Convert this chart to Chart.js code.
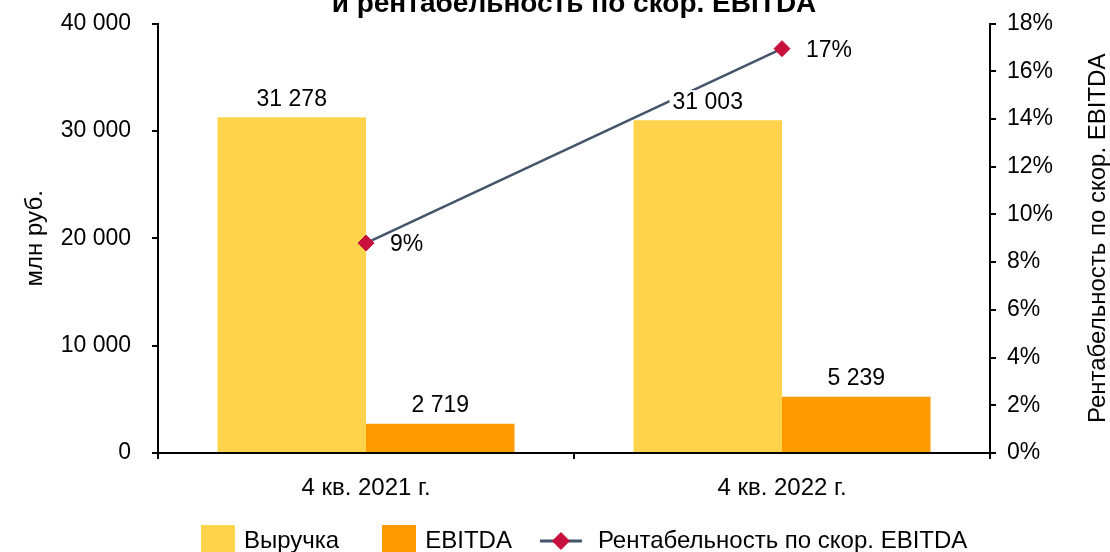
<!DOCTYPE html>
<html><head><meta charset="utf-8">
<script src="https://cdn.jsdelivr.net/npm/chart.js@4/dist/chart.umd.min.js"></script>
<style>
html,body{margin:0;padding:0;background:#fff;overflow:hidden;width:1110px;height:552px;}
#wrap{position:absolute;left:0;top:-13px;width:1110px;height:576px;}
</style></head><body>
<div id="wrap"><canvas id="c"></canvas></div>
<script>
const categories = ['4 кв. 2021 г.', '4 кв. 2022 г.'];
const revenue = [31278, 31003];
const ebitda = [2719, 5239];
const margin = [8.8, 16.95];
const marginLabels = ['9%', '17%'];
const seriesNames = ['Выручка', 'EBITDA', 'Рентабельность по скор. EBITDA'];
const leftTicks = [0, 10000, 20000, 30000, 40000];
const rightTicks = [0, 2, 4, 6, 8, 10, 12, 14, 16, 18];
const titleText = 'и рентабельность по скор. EBITDA';
const leftAxisTitle = 'млн руб.';
const rightAxisTitle = 'Рентабельность по скор. EBITDA';

const YELLOW = '#FFD44C', ORANGE = '#FF9A00', LINE = '#44546A', DIAMOND = '#C8103C';
const FAMILY = '"Liberation Sans", Arial, sans-serif';
Chart.defaults.font.family = FAMILY;
Chart.defaults.font.size = 23;
Chart.defaults.color = '#000';

const fmt = v => String(v).replace(/\B(?=(\d{3})+(?!\d))/g, ' ');

function boxIcon(color) {
  const c = document.createElement('canvas');
  c.width = 34; c.height = 32;
  const x = c.getContext('2d');
  x.fillStyle = color; x.fillRect(0, 0, 34, 32);
  return c;
}
function lineIcon() {
  const c = document.createElement('canvas');
  c.width = 70; c.height = 20;
  const x = c.getContext('2d');
  x.strokeStyle = LINE; x.lineWidth = 3;
  x.beginPath(); x.moveTo(3, 10); x.lineTo(45, 10); x.stroke();
  x.fillStyle = DIAMOND;
  x.beginPath(); x.moveTo(24, 1); x.lineTo(33, 10); x.lineTo(24, 19); x.lineTo(15, 10); x.closePath(); x.fill();
  return c;
}
const icons = [boxIcon(YELLOW), boxIcon(ORANGE), lineIcon()];

const axisGrid = {drawOnChartArea: false, drawTicks: true, tickLength: 6, color: '#000', lineWidth: 2};
const axisBorder = {display: true, color: '#000', width: 2};

const labelPlugin = {
  id: 'valueLabels',
  afterLayout(chart) {
    // let x-axis labels extend below the scale box without clipping
    chart.scales.x.bottom = chart.height;
    // legend starts at the left edge of the plot area
    chart.legend.left = chart.chartArea.left;
  },
  afterDatasetsDraw(chart) {
    const ctx = chart.ctx;
    ctx.save();
    ctx.font = '23px ' + FAMILY;
    ctx.textBaseline = 'middle';
    [0, 1].forEach(di => {
      const meta = chart.getDatasetMeta(di);
      meta.data.forEach((bar, i) => {
        const t = fmt(chart.data.datasets[di].data[i]);
        const w = ctx.measureText(t).width;
        const y = bar.y - 18;
        ctx.fillStyle = '#fff';
        ctx.fillRect(bar.x - w / 2 - 3, y - 12, w + 6, 24);
        ctx.fillStyle = '#000';
        ctx.textAlign = 'center';
        ctx.fillText(t, bar.x, y);
      });
    });
    const lm = chart.getDatasetMeta(2);
    ctx.textAlign = 'left';
    lm.data.forEach((p, i) => ctx.fillText(marginLabels[i], p.x + 24, p.y + 2));
    const ca = chart.chartArea;
    ctx.font = '24px ' + FAMILY;
    ctx.translate(1098, (ca.top + ca.bottom) / 2);
    ctx.rotate(-Math.PI / 2);
    ctx.textAlign = 'center';
    ctx.fillText(rightAxisTitle, 0, 0);
    ctx.restore();
  }
};

new Chart(document.getElementById('c'), {
  type: 'bar',
  data: {
    labels: categories,
    datasets: [
      {label: seriesNames[0], data: revenue, backgroundColor: YELLOW, yAxisID: 'y', order: 2,
       categoryPercentage: 0.714, barPercentage: 1.0},
      {label: seriesNames[1], data: ebitda, backgroundColor: ORANGE, yAxisID: 'y', order: 2,
       categoryPercentage: 0.714, barPercentage: 1.0},
      {type: 'line', label: seriesNames[2], data: margin, yAxisID: 'y1', order: 0,
       borderColor: LINE, borderWidth: 2.5, tension: 0,
       pointStyle: 'rectRot', pointRadius: 8, pointHoverRadius: 8,
       pointBackgroundColor: DIAMOND, pointBorderColor: DIAMOND, pointBorderWidth: 1}
    ]
  },
  options: {
    responsive: true, maintainAspectRatio: false, animation: false, devicePixelRatio: 1,
    layout: {padding: 0},
    plugins: {
      tooltip: {enabled: false},
      title: {display: true, text: titleText, color: '#000', fullSize: false,
              font: {size: 28, weight: 'bold', family: FAMILY}, padding: {top: 0, bottom: 3}},
      legend: {
        display: true, position: 'bottom', align: 'start', fullSize: true,
        labels: {
          usePointStyle: true, pointStyleWidth: 28, padding: 46, color: '#000',
          font: {size: 24, family: FAMILY},
          generateLabels: chart => seriesNames.map((n, i) => ({
            text: n, pointStyle: icons[i], fillStyle: 'rgba(0,0,0,0)', strokeStyle: 'rgba(0,0,0,0)',
            lineWidth: 0, hidden: false, datasetIndex: i, fontColor: '#000'
          }))
        }
      }
    },
    scales: {
      x: {
        grid: {...axisGrid, offset: true}, border: axisBorder,
        ticks: {color: '#000', padding: 15, font: {size: 24}},
        afterFit(s) { s.height = 30; }
      },
      y: {
        position: 'left', min: 0, max: 40000,
        grid: axisGrid, border: axisBorder,
        afterBuildTicks(s) { s.ticks = leftTicks.map(v => ({value: v})); },
        ticks: {color: '#000', padding: 21, font: {size: 23}, callback: v => fmt(v)},
        title: {display: true, text: leftAxisTitle, color: '#000', font: {size: 24}, padding: {top: 21, bottom: 0}},
        afterFit(s) { s.width = 158; }
      },
      y1: {
        position: 'right', min: 0, max: 18,
        grid: axisGrid, border: axisBorder,
        afterBuildTicks(s) { s.ticks = rightTicks.map(v => ({value: v})); },
        ticks: {color: '#000', padding: 11, font: {size: 23}, callback: v => v + '%'},
        afterFit(s) { s.width = 120; }
      }
    }
  },
  plugins: [labelPlugin]
});
</script>
</body></html>
